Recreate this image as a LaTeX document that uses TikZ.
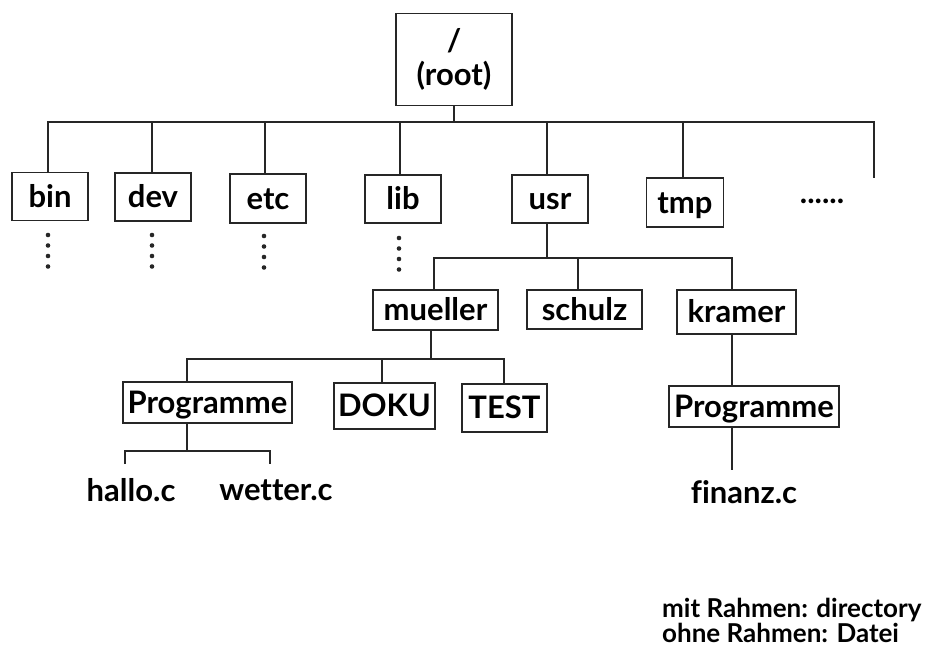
\documentclass[tikz,border=0pt]{standalone}
\usepackage{fontspec}
\setmainfont{Lato}[Ligatures=NoCommon]
\begin{document}
\begin{tikzpicture}[x=1pt,y=-1pt,
  dirbase/.style={draw=black!85,line width=1.6pt,inner sep=0pt,font=\fontsize{31}{34}\selectfont\bfseries},
  dir/.style={dirbase,text height=25pt,text depth=4pt},
  file/.style={inner sep=0pt,font=\fontsize{31}{34}\selectfont\bfseries},
  legend/.style={inner sep=0pt,anchor=base west,font=\fontsize{26}{28}\selectfont\bfseries},
  conn/.style={draw=black!85,line width=1.5pt}]
\useasboundingbox (0,0) rectangle (931,661);
% root
\node[dirbase,minimum width=116pt,minimum height=92pt,align=center] (root) at (454,59.5) {/\\(root)};
% level 1
\node[dir,minimum width=76pt,minimum height=48pt] (bin) at (50,196.5) {bin};
\node[dir,minimum width=76pt,minimum height=48pt] (dev) at (153,197) {dev};
\node[dir,minimum width=76pt,minimum height=49pt] (etc) at (268,198.5) {etc};
\node[dir,minimum width=76pt,minimum height=48pt] (lib) at (403,199) {lib};
\node[dir,minimum width=76pt,minimum height=48pt] (usr) at (550,199) {usr};
\node[dir,minimum width=77pt,minimum height=49pt] (tmp) at (685,202.5) {tmp};
\node[file,anchor=base] (more) at (822,203) {......};
\coordinate (bus) at (0,122);
\coordinate (rend) at (874,178);
\draw[conn] (root.south) -- (root.south |- bus);
\draw[conn] (bin.north -| 48,0) -- (48,122) -- (rend |- bus) -- (rend);
\draw[conn] (dev.north -| 152,0) -- (152,122);
\draw[conn] (etc.north -| 265,0) -- (265,122);
\draw[conn] (lib.north -| 400,0) -- (400,122);
\draw[conn] (usr.north -| 547,0) -- (547,122);
\draw[conn] (tmp.north -| 683,0) -- (683,122);
% dots
\foreach \x/\y in {48/235,152/235,264/236,399/238}{
  \foreach \k in {0,1,2,3}{\fill[black!85] (\x,\y+\k*10.5) circle (2.3pt);}
}
% level 2
\node[dir,minimum width=125pt,minimum height=40pt] (mueller) at (435.5,310) {mueller};
\node[dir,minimum width=115pt,minimum height=39pt] (schulz) at (584.5,309.5) {schulz};
\node[dir,minimum width=119pt,minimum height=44pt] (kramer) at (736.5,312) {kramer};
\draw[conn] (usr.south -| 547,0) -- (547,258);
\draw[conn] (mueller.north -| 434,0) -- (434,258) -- (732,258) -- (kramer.north -| 732,0);
\draw[conn] (schulz.north -| 578,0) -- (578,258);
% level 3
\node[dir,minimum width=169pt,minimum height=41pt] (prog1) at (207.5,402.5) {Programme};
\node[dir,minimum width=101pt,minimum height=46pt] (doku) at (384.5,406) {DOKU};
\node[dir,minimum width=85pt,minimum height=48pt] (test) at (504.5,408) {TEST};
\node[dir,minimum width=170pt,minimum height=41pt] (prog2) at (754,406.5) {Programme};
\draw[conn] (mueller.south -| 431,0) -- (431,359);
\draw[conn] (prog1.north -| 187,0) -- (187,359) -- (504,359) -- (test.north -| 504,0);
\draw[conn] (doku.north -| 382,0) -- (382,359);
\draw[conn] (kramer.south -| 732,0) -- (prog2.north -| 732,0);
% files
\node[file] (hallo) at (131,490) {hallo.c};
\node[file] (wetter) at (276,490) {wetter.c};
\node[file] (finanz) at (744,492) {finanz.c};
\coordinate (hl) at (125,464);
\coordinate (wl) at (270,464);
\coordinate (fl) at (732,470);
\draw[conn] (prog1.south -| 187,0) -- (187,451);
\draw[conn] (hl) -- (hl |- 0,451) -- (wl |- 0,451) -- (wl);
\draw[conn] (prog2.south -| 732,0) -- (fl);
% legend
\node[legend] (leg1) at (662,617) {mit Rahmen: directory};
\node[legend] (leg2) at (662,642) {ohne Rahmen: Datei};
\end{tikzpicture}
\end{document}
